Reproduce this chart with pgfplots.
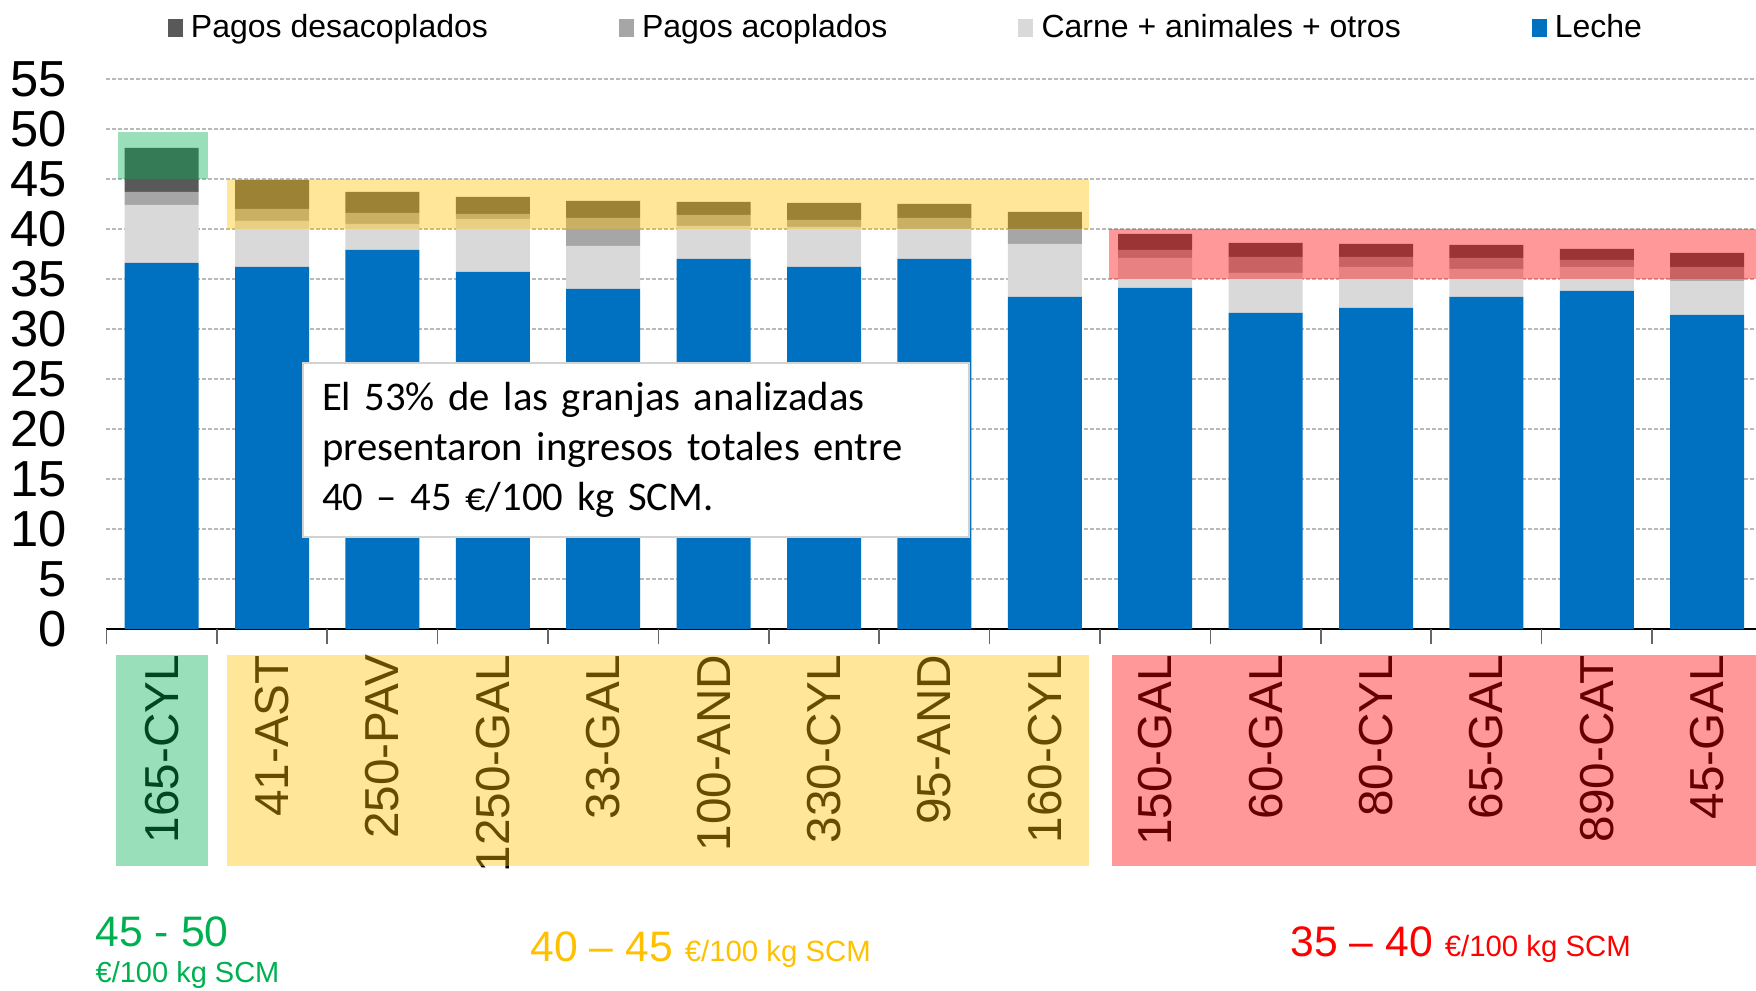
\documentclass[border=0pt]{standalone}
\usepackage{fontspec}
\setmainfont{Liberation Sans}
\newfontfamily\calibri{Carlito}
\usepackage{pgfplots}
\pgfplotsset{compat=1.18}

\definecolor{leche}{HTML}{0070C0}
\definecolor{carne}{HTML}{D9D9D9}
\definecolor{acop}{HTML}{A6A6A6}
\definecolor{desacop}{HTML}{595959}
\definecolor{hgreen}{HTML}{00B050}
\definecolor{hyellow}{HTML}{FFC000}
\definecolor{hred}{HTML}{FF0000}

\pgfplotsset{sqlegend/.style={legend image code/.code={\fill[##1] (0pt,-2.7pt) rectangle (4.5pt,2.7pt);}}}

\begin{document}
\begin{tikzpicture}
\useasboundingbox (0,0) rectangle (526.8pt,297pt);
\begin{axis}[
  at={(31.92pt,108.3pt)}, anchor=south west,
  x=33.12pt, y=3pt,
  xmin=-0.5, xmax=14.44, ymin=0, ymax=55,
  ybar stacked, bar width=22.2pt,
  axis x line*=bottom, axis y line*=left,
  y axis line style={draw=none},
  x axis line style={black, line width=0.6pt},
  tick align=outside, major tick length=0pt,
  ytick={0,5,...,55},
  ymajorgrids, grid style={gray!55, dash pattern=on 1pt off 0.8pt, line width=0.35pt},
  yticklabel style={font=\fontsize{15.2}{17}\selectfont},
  yticklabel shift=8.3pt,
  /pgf/number format/assume math mode=true,
  xtick={0,...,14},
  xticklabels={165-CYL,41-AST,250-PAV,1250-GAL,33-GAL,100-AND,330-CYL,95-AND,160-CYL,150-GAL,60-GAL,80-CYL,65-GAL,890-CAT,45-GAL},
  xticklabel style={font=\fontsize{14.3}{16}\selectfont, rotate=90, anchor=east},
  xticklabel shift=4.3pt,
  extra x ticks={-0.5,0.5,...,13.5},
  extra x tick labels={},
  extra x tick style={major tick length=4.5pt, tick style={draw=gray!80!black, line width=0.5pt}},
  reverse legend,
  legend columns=4,
  legend style={draw=none, fill=none, inner sep=0pt, anchor=west, at={(0.0367,1.0927)},
    font=\fontsize{9.6}{11}\selectfont,
    /tikz/every odd column/.append style={column sep=0.5pt},
    /tikz/every even column/.append style={column sep=37.2pt}},
]
\addplot[fill=leche, draw=none, sqlegend] coordinates {(0,36.6) (1,36.2) (2,37.9) (3,35.7) (4,34.0) (5,37.0) (6,36.2) (7,37.0) (8,33.2) (9,34.1) (10,31.6) (11,32.1) (12,33.2) (13,33.8) (14,31.4)};
\addplot[fill=carne, draw=none, sqlegend] coordinates {(0,5.8) (1,4.6) (2,2.6) (3,5.3) (4,4.3) (5,3.3) (6,4.0) (7,3.0) (8,5.3) (9,3.0) (10,4.0) (11,4.1) (12,2.8) (13,2.4) (14,3.4)};
\addplot[fill=acop, draw=none, sqlegend] coordinates {(0,1.3) (1,1.2) (2,1.1) (3,0.5) (4,2.8) (5,1.1) (6,0.7) (7,1.1) (8,1.5) (9,0.8) (10,1.6) (11,1.0) (12,1.1) (13,0.7) (14,1.4)};
\addplot[fill=desacop, draw=none, sqlegend] coordinates {(0,4.4) (1,2.9) (2,2.1) (3,1.7) (4,1.7) (5,1.3) (6,1.7) (7,1.4) (8,1.7) (9,1.6) (10,1.4) (11,1.3) (12,1.3) (13,1.1) (14,1.4)};
\legend{Leche, Carne + animales + otros, Pagos acoplados, Pagos desacoplados}
\coordinate (pgA) at (axis cs:-0.395,45);
\coordinate (pgB) at (axis cs:0.42,49.7);
\coordinate (pyA) at (axis cs:0.59,40);
\coordinate (pyB) at (axis cs:8.40,45);
\coordinate (prA) at (axis cs:8.58,35);
\coordinate (prB) at (axis cs:14.44,40);
\coordinate (gA) at (axis cs:-0.41,-2.6);
\coordinate (gB) at (axis cs:0.42,-23.7);
\coordinate (yA) at (axis cs:0.59,-2.6);
\coordinate (yB) at (axis cs:8.40,-23.7);
\coordinate (rA) at (axis cs:8.61,-2.6);
\coordinate (rB) at (axis cs:14.44,-23.7);
\end{axis}
\fill[hgreen, opacity=0.4] (pgA) rectangle (pgB);
\fill[hyellow, opacity=0.4] (pyA) rectangle (pyB);
\fill[hred, opacity=0.4] (prA) rectangle (prB);
\fill[hgreen, opacity=0.4] (gA) rectangle (gB);
\fill[hyellow, opacity=0.4] (yA) rectangle (yB);
\fill[hred, opacity=0.4] (rA) rectangle (rB);
\node[draw=gray!35, line width=0.6pt, fill=white, anchor=north west, minimum width=199.8pt, minimum height=52.2pt, text width=188.4pt, inner xsep=5.7pt, inner ysep=0pt, align=left, font=\calibri\fontsize{12.2}{15}\selectfont] at (90.6pt,188.4pt) {El 53\% de las granjas analizadas\\presentaron ingresos totales entre\\40 – 45 €/100 kg SCM.};
\node[anchor=base west, inner sep=0pt, text=hgreen, font=\fontsize{12.8}{14}\selectfont] at (28.5pt,13pt) {45 - 50};
\node[anchor=base west, inner sep=0pt, text=hgreen, font=\fontsize{8.7}{10}\selectfont] at (28.5pt,2.4pt) {€/100 kg SCM};
\node[anchor=base west, inner sep=0pt, text=hyellow] at (159pt,8.55pt) {\fontsize{12.8}{14}\selectfont 40 – 45 \fontsize{8.8}{10}\selectfont €/100 kg SCM};
\node[anchor=base west, inner sep=0pt, text=hred] at (387pt,10.05pt) {\fontsize{12.8}{14}\selectfont 35 – 40 \fontsize{8.8}{10}\selectfont €/100 kg SCM};
\end{tikzpicture}
\end{document}
